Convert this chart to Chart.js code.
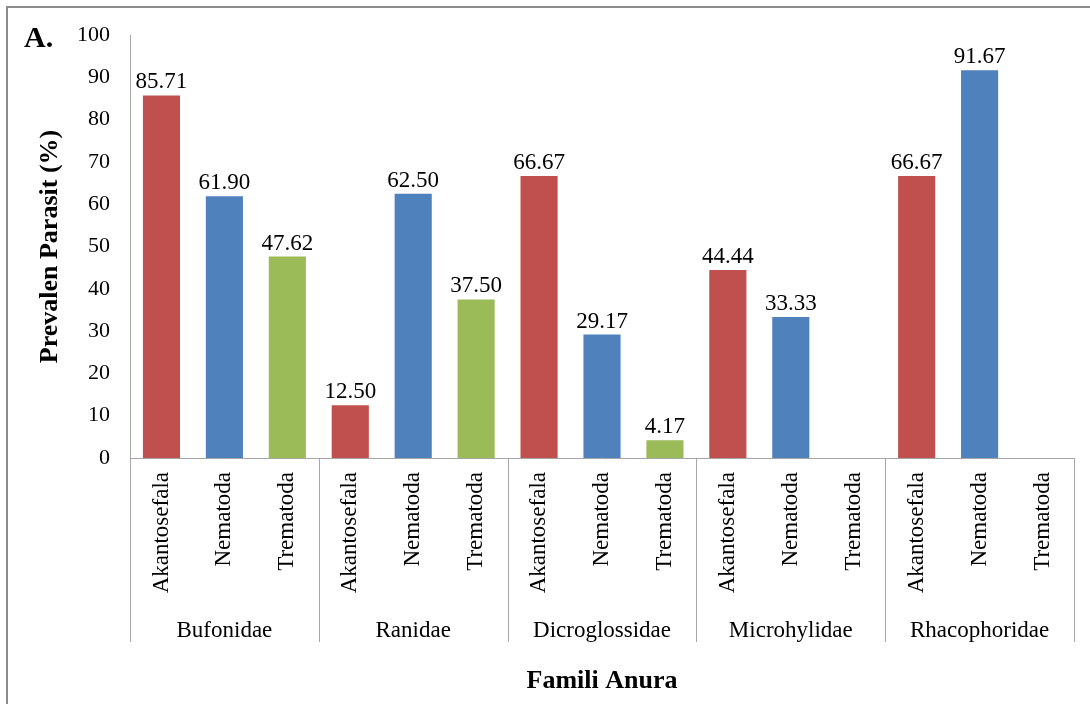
<!DOCTYPE html>
<html>
<head>
<meta charset="utf-8">
<title>Prevalen Parasit</title>
<script src="https://cdn.jsdelivr.net/npm/chart.js@4/dist/chart.umd.min.js"></script>
<style>
    html, body { margin: 0; padding: 0; background: #fff; overflow: hidden; }
    #wrap { position: relative; width: 1090px; height: 704px; overflow: hidden; }
    #frame {
        position: absolute; left: 6px; top: 6px;
        width: 1200px; height: 800px;
        border: 2px solid #8c8c8c;
        pointer-events: none;
    }
    #chart { position: absolute; left: 0; top: 0; }
</style>
</head>
<body>
<div id="wrap">
    <canvas id="chart" width="1090" height="704"></canvas>
    <div id="frame"></div>
</div>
<script>
// Data
const families = ['Bufonidae', 'Ranidae', 'Dicroglossidae', 'Microhylidae', 'Rhacophoridae'];
const parasites = ['Akantosefala', 'Nematoda', 'Trematoda'];
const akantosefala = [85.71, 12.50, 66.67, 44.44, 66.67];
const nematoda = [61.90, 62.50, 29.17, 33.33, 91.67];
const trematoda = [47.62, 37.50, 4.17, null, null];

const parasiteColors = ['#c0504d', '#4f81bd', '#9bbb59'];
const FONT = "'Liberation Serif', 'Times New Roman', serif";

// Flatten into one category per bar
const labels = [];
const values = [];
const colors = [];
families.forEach((fam, i) => {
    [akantosefala, nematoda, trematoda].forEach((series, j) => {
        labels.push(parasites[j]);
        values.push(series[i]);
        colors.push(parasiteColors[j]);
    });
});

Chart.defaults.font.family = FONT;
Chart.defaults.color = '#000';

// Group dividers and family names under the rotated labels
const groupPlugin = {
    id: 'groups',
    afterDraw(chart) {
        const {ctx, chartArea} = chart;
        const x = chart.scales.x;
        const half = (x.getPixelForValue(1) - x.getPixelForValue(0)) / 2;
        const lineBottom = chartArea.bottom + 184;
        ctx.save();
        ctx.strokeStyle = '#a6a6a6';
        ctx.lineWidth = 1;
        for (let g = 0; g <= families.length; g++) {
            const idx = g * parasites.length;
            const px = Math.round(x.getPixelForValue(idx) - half) + 0.5;
            ctx.beginPath();
            ctx.moveTo(px, chartArea.bottom);
            ctx.lineTo(px, lineBottom);
            ctx.stroke();
        }
        ctx.fillStyle = '#000';
        ctx.font = '23px ' + FONT;
        ctx.textAlign = 'center';
        ctx.textBaseline = 'alphabetic';
        families.forEach((fam, g) => {
            const c = x.getPixelForValue(g * parasites.length + 1);
            ctx.fillText(fam, c, chartArea.bottom + 179);
        });
        ctx.restore();
    }
};

// Values above the bars
const valueLabelPlugin = {
    id: 'valueLabels',
    afterDatasetsDraw(chart) {
        const {ctx} = chart;
        const meta = chart.getDatasetMeta(0);
        ctx.save();
        ctx.fillStyle = '#000';
        ctx.font = '23px ' + FONT;
        ctx.textAlign = 'center';
        ctx.textBaseline = 'alphabetic';
        meta.data.forEach((bar, i) => {
            const v = values[i];
            if (v === null || v === undefined) return;
            ctx.fillText(v.toFixed(2), bar.x, bar.y - 7);
        });
        ctx.restore();
    }
};

// Panel letter
const panelPlugin = {
    id: 'panel',
    afterDraw(chart) {
        const {ctx} = chart;
        ctx.save();
        ctx.fillStyle = '#000';
        ctx.font = 'bold 30px ' + FONT;
        ctx.textAlign = 'left';
        ctx.textBaseline = 'alphabetic';
        ctx.fillText('A.', 24, 47);
        ctx.restore();
    }
};

new Chart(document.getElementById('chart'), {
    type: 'bar',
    data: {
        labels: labels,
        datasets: [{
            data: values,
            backgroundColor: colors,
            borderWidth: 0,
            categoryPercentage: 1,
            barPercentage: 0.59
        }]
    },
    options: {
        responsive: false,
        animation: false,
        layout: {
            padding: { left: 0, top: 35, right: 16, bottom: 0 }
        },
        plugins: {
            legend: { display: false },
            tooltip: { enabled: false }
        },
        scales: {
            x: {
                grid: { display: false, drawTicks: false },
                border: { display: true, color: '#a6a6a6', width: 1 },
                ticks: {
                    autoSkip: false,
                    minRotation: 90,
                    maxRotation: 90,
                    padding: 14,
                    color: '#000',
                    font: { size: 23 }
                },
                title: {
                    display: true,
                    text: 'Famili Anura',
                    color: '#000',
                    font: { size: 26, weight: 'bold' },
                    padding: { top: 0, bottom: 7 }
                },
                afterFit(scale) {
                    scale.height = 704 - 458;
                }
            },
            y: {
                min: 0,
                max: 100,
                grid: { display: false, drawTicks: false },
                border: { display: true, color: '#a6a6a6', width: 1 },
                ticks: {
                    stepSize: 10,
                    padding: 20,
                    color: '#000',
                    font: { size: 22 }
                },
                title: {
                    display: true,
                    text: 'Prevalen Parasit (%)',
                    color: '#000',
                    font: { size: 26, weight: 'bold' },
                    padding: { top: 35, bottom: 0 }
                },
                afterFit(scale) {
                    scale.width = 130;
                }
            }
        }
    },
    plugins: [groupPlugin, valueLabelPlugin, panelPlugin]
});
</script>
</body>
</html>
